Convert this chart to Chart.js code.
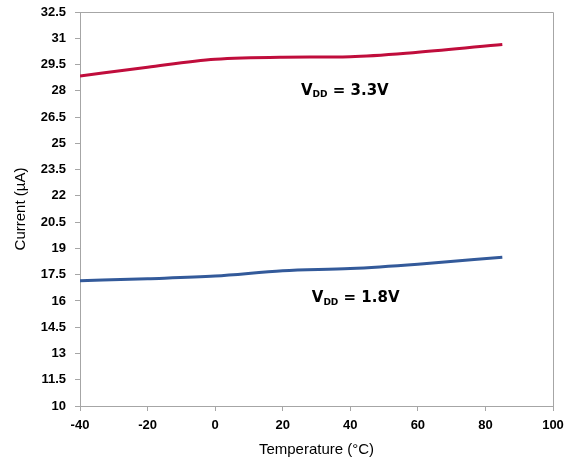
<!DOCTYPE html>
<html>
<head>
<meta charset="utf-8">
<script src="https://cdn.jsdelivr.net/npm/chart.js@4"></script>
<style>
  html, body { margin: 0; padding: 0; background: #fff; }
  #wrap { width: 574px; height: 467px; }
</style>
</head>
<body>
<div id="wrap"><canvas id="chart"></canvas></div>
<script>
// --- data ---
const temps = [-40, -20, 0, 20, 40, 60, 85];
const current33 = [28.85, 29.35, 29.8, 29.92, 29.95, 30.2, 30.65];
const current18 = [17.15, 17.27, 17.42, 17.72, 17.85, 18.1, 18.5];
const xTicks = [-40, -20, 0, 20, 40, 60, 80, 100];
const yTicks = [10, 11.5, 13, 14.5, 16, 17.5, 19, 20.5, 22, 23.5, 25, 26.5, 28, 29.5, 31, 32.5];
const labels = [
    { main: 'V', sub: 'DD', rest: ' = 3.3V', x: 25.4, y: 28.0 },
    { main: 'V', sub: 'DD', rest: ' = 1.8V', x: 28.6, y: 16.15 }
];

const toPoints = (xs, ys) => xs.map((x, i) => ({ x: x, y: ys[i] }));

// frame around the plot area + the VDD labels
const framePlugin = {
    id: 'frame',
    afterDraw(chart) {
        const ctx = chart.ctx;
        const a = chart.chartArea;
        ctx.save();
        ctx.strokeStyle = '#a6a6a6';
        ctx.lineWidth = 1;
        ctx.beginPath();
        ctx.moveTo(a.left, a.top + 0.5);
        ctx.lineTo(a.right + 0.5, a.top + 0.5);
        ctx.lineTo(a.right + 0.5, a.bottom);
        ctx.stroke();

        const xs = chart.scales.x, ys = chart.scales.y;
        ctx.fillStyle = '#000';
        ctx.textBaseline = 'middle';
        labels.forEach(l => {
            let px = xs.getPixelForValue(l.x);
            const py = ys.getPixelForValue(l.y);
            ctx.font = 'bold 15px "DejaVu Sans"';
            ctx.fillText(l.main, px, py);
            px += ctx.measureText(l.main).width;
            ctx.font = 'bold 9px "DejaVu Sans"';
            ctx.fillText(l.sub, px, py + 4);
            px += ctx.measureText(l.sub).width;
            ctx.font = 'bold 15px "DejaVu Sans"';
            ctx.fillText(l.rest, px, py);
        });
        ctx.restore();
    }
};

const lineSet = (data, color) => ({
    data: data,
    borderColor: color,
    borderWidth: 3,
    pointRadius: 0,
    fill: false,
    cubicInterpolationMode: 'monotone'
});

new Chart(document.getElementById('chart'), {
    type: 'line',
    data: {
        datasets: [
            lineSet(toPoints(temps, current33), '#c00d3c'),
            lineSet(toPoints(temps, current18), '#335a9a')
        ]
    },
    options: {
        responsive: true,
        maintainAspectRatio: false,
        animation: false,
        layout: { padding: { top: 12, right: 21, left: 8, bottom: 4 } },
        plugins: { legend: { display: false }, tooltip: { enabled: false } },
        scales: {
            x: {
                type: 'linear',
                min: -40, max: 100,
                afterBuildTicks: s => { s.ticks = xTicks.map(v => ({ value: v })); },
                afterFit: s => { s.height = 57; s.paddingLeft = 0; s.paddingRight = 0; },
                grid: { drawOnChartArea: false, drawTicks: true, tickLength: 5, color: '#a6a6a6' },
                border: { color: '#a6a6a6' },
                ticks: { color: '#000', font: { family: 'Liberation Sans', weight: 'bold', size: 13 }, padding: 7, maxRotation: 0 },
                title: { display: true, text: 'Temperature (°C)', color: '#000', font: { family: 'Liberation Sans', size: 15 }, padding: { top: 10 } }
            },
            y: {
                min: 10, max: 32.5,
                afterBuildTicks: s => { s.ticks = yTicks.map(v => ({ value: v })); },
                afterFit: s => { s.width = 72; s.paddingTop = 0; s.paddingBottom = 0; },
                grid: { drawOnChartArea: false, drawTicks: true, tickLength: 5, color: '#a6a6a6' },
                border: { color: '#a6a6a6' },
                ticks: { color: '#000', font: { family: 'Liberation Sans', weight: 'bold', size: 13 }, padding: 9 },
                title: { display: true, text: 'Current (µA)', color: '#000', font: { family: 'Liberation Sans', size: 15 }, padding: { bottom: 2 } }
            }
        }
    },
    plugins: [framePlugin]
});
</script>
</body>
</html>
